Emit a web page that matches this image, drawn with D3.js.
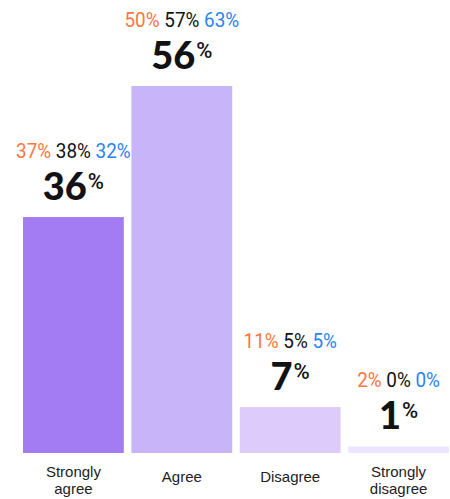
<!DOCTYPE html>
<html>
<head>
<meta charset="utf-8">
<script src="https://d3js.org/d3.v7.min.js"></script>
<style>
  body { margin: 0; background: #fff; }
  svg { display: block; }
</style>
</head>
<body>
<div id="chart"></div>
<script>
// data
var categories = ["Strongly agree", "Agree", "Disagree", "Strongly disagree"];
var tickLines = [["Strongly", "agree"], ["Agree"], ["Disagree"], ["Strongly", "disagree"]];
var totals = [36, 56, 7, 1];
var groupA = [37, 50, 11, 2];   // orange
var groupB = [38, 57, 5, 0];    // black
var groupC = [32, 63, 5, 0];    // blue

var barColors = ["#a37bf2", "#c8b4f8", "#dccbfb", "#ede4fd"];
var orange = "#fb7640", dark = "#121212", blue = "#2a84f2";

var width = 450, height = 499;
var baseline = 453;

var svg = d3.select("#chart")
  .append("svg")
    .attr("width", width)
    .attr("height", height);

var x = d3.scaleBand()
  .domain(categories)
  .range([23, 449])
  .paddingInner(0.07)
  .paddingOuter(0);

var y = d3.scaleLinear()
  .domain([0, d3.max(totals)])
  .range([baseline, 86]);

var rows = categories.map(function(c, i) {
  return {cat: c, total: totals[i], a: groupA[i], b: groupB[i], c: groupC[i], i: i};
});

// bars
svg.append("g")
  .selectAll("rect")
  .data(rows)
  .enter().append("rect")
    .attr("x", function(d) { return x(d.cat); })
    .attr("y", function(d) { return y(d.total); })
    .attr("width", x.bandwidth())
    .attr("height", function(d) { return baseline - y(d.total); })
    .attr("fill", function(d) { return barColors[d.i]; });

// big total labels
var big = svg.append("g")
  .selectAll("text")
  .data(rows)
  .enter().append("text")
    .attr("x", function(d) { return x(d.cat) + x.bandwidth() / 2; })
    .attr("y", function(d) { return y(d.total) - 17; })
    .attr("text-anchor", "middle")
    .style("font-family", "Lato, 'DejaVu Sans', sans-serif")
    .style("fill", dark);
big.append("tspan")
  .style("font-size", "38px")
  .style("font-weight", 900)
  .text(function(d) { return d.total; });
big.append("tspan")
  .attr("dx", 1)
  .attr("dy", -11)
  .style("font-size", "22px")
  .style("font-family", "Roboto, sans-serif")
  .style("font-weight", 500)
  .text("%");

// small group labels (squeezed to look condensed)
var small = svg.append("g")
  .selectAll("text")
  .data(rows)
  .enter().append("text")
    .attr("transform", function(d) {
      return "translate(" + (x(d.cat) + x.bandwidth() / 2) + "," + (y(d.total) - 59) + ") scale(0.9,1)";
    })
    .attr("text-anchor", "middle")
    .style("font-family", "Roboto, sans-serif")
    .style("font-size", "21px");
small.append("tspan").style("fill", orange).text(function(d) { return d.a + "%"; });
small.append("tspan").style("fill", dark).text(function(d) { return " " + d.b + "%"; });
small.append("tspan").style("fill", blue).text(function(d) { return " " + d.c + "%"; });

// category axis
var axis = svg.append("g")
  .attr("transform", "translate(0," + baseline + ")")
  .call(d3.axisBottom(x).tickSize(0));
axis.select(".domain").remove();
axis.selectAll(".tick text").each(function(d) {
  var lines = tickLines[categories.indexOf(d)];
  var t = d3.select(this).text(null)
    .attr("y", lines.length > 1 ? 24 : 29)
    .attr("dy", null)
    .style("font-family", "'Liberation Sans', Arial, sans-serif")
    .style("font-size", "15px")
    .style("fill", "#222");
  lines.forEach(function(line, k) {
    t.append("tspan")
      .attr("x", 0)
      .attr("dy", k === 0 ? 0 : 17)
      .text(line);
  });
});
</script>
</body>
</html>
